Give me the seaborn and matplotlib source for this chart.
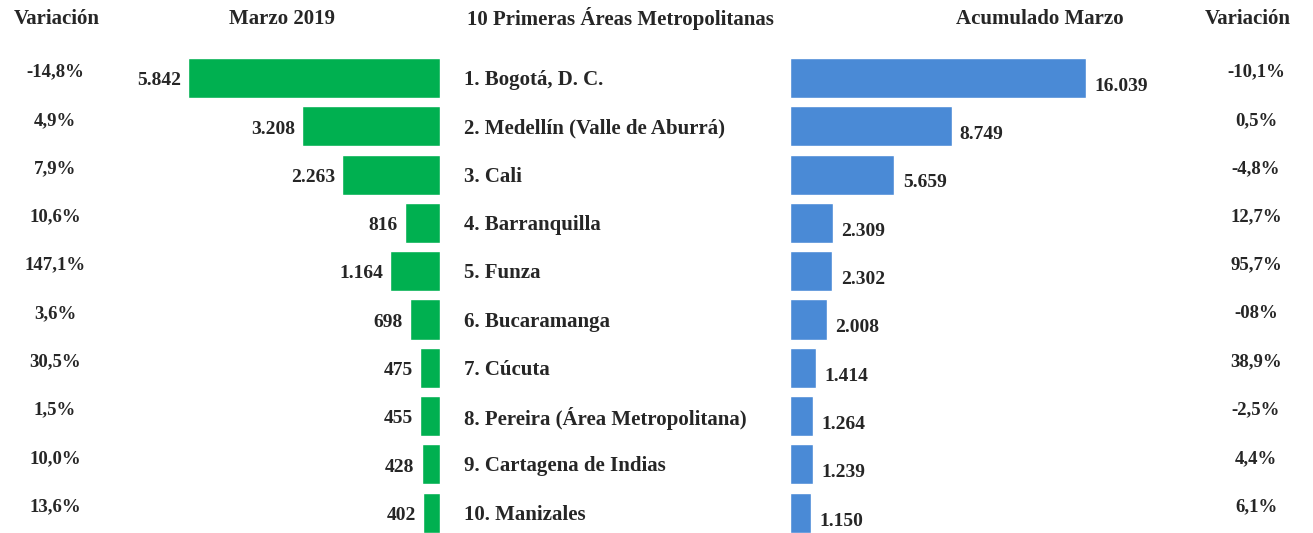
import matplotlib
matplotlib.use("Agg")
import matplotlib.pyplot as plt
import seaborn as sns
import pandas as pd

areas = [
    "1. Bogotá, D. C.",
    "2. Medellín (Valle de Aburrá)",
    "3. Cali",
    "4. Barranquilla",
    "5. Funza",
    "6. Bucaramanga",
    "7. Cúcuta",
    "8. Pereira (Área Metropolitana)",
    "9. Cartagena de Indias",
    "10. Manizales",
]
marzo_2019 = [5842, 3208, 2263, 816, 1164, 698, 475, 455, 428, 402]
acumulado_marzo = [16039, 8749, 5659, 2309, 2302, 2008, 1414, 1264, 1239, 1150]
var_marzo = ["-14,8%", "4,9%", "7,9%", "10,6%", "147,1%", "3,6%", "30,5%", "1,5%", "10,0%", "13,6%"]
var_acum = ["-10,1%", "0,5%", "-4,8%", "12,7%", "95,7%", "-08%", "38,9%", "-2,5%", "4,4%", "6,1%"]

df = pd.DataFrame({"area": areas, "marzo": marzo_2019, "acum": acumulado_marzo})

def miles(v):
    return f"{v:,}".replace(",", ".")

sns.set_style("white")
plt.rcParams["font.family"] = ["Liberation Serif", "DejaVu Serif"]
plt.rcParams["font.weight"] = "bold"

W, H = 1313, 533
fig = plt.figure(figsize=(W / 100, H / 100), dpi=100)

# fila 0 centrada en y=78 px, separación 48.3 px
paso = 48.3
top_px = 78 - paso / 2
ylim = ((H - 78) / paso, -0.5)
ax_h = 1 - top_px / H
fs = 15
fs_pct = 13.5
verde = "#00B050"
azul = "#4A8AD6"

# barras izquierdas (Marzo 2019)
axl_x0, axl_x1 = 100, 440
axl = fig.add_axes([axl_x0 / W, 0, (axl_x1 - axl_x0) / W, ax_h])
sns.barplot(data=df, x="marzo", y="area", orient="h", color=verde, width=0.83,
            saturation=1, ax=axl)
axl.set_xlim((axl_x1 - axl_x0) / 0.0431, 0)
axl.set_ylim(*ylim)
axl.axis("off")
for i, v in enumerate(marzo_2019):
    axl.annotate(miles(v), (v, i), xytext=(-5, -2), textcoords="offset points",
                 ha="right", va="center", fontsize=fs_pct + 0.5, fontweight="bold")

# barras derechas (Acumulado Marzo)
axr_x0, axr_x1 = 790, 1190
axr = fig.add_axes([axr_x0 / W, 0, (axr_x1 - axr_x0) / W, ax_h])
sns.barplot(data=df, x="acum", y="area", orient="h", color=azul, width=0.83,
            saturation=1, ax=axr)
axr.set_xlim(0, (axr_x1 - axr_x0) / 0.01846)
axr.set_ylim(*ylim)
axr.axis("off")
for i, v in enumerate(acumulado_marzo):
    axr.annotate(miles(v), (v, i), xytext=(6, -6), textcoords="offset points",
                 ha="left", va="center", fontsize=fs_pct + 0.5, fontweight="bold")

# columnas de texto
def fx(px):
    return px / W

def fy(px):
    return 1 - px / H

for i in range(len(areas)):
    yc = 78 + i * paso
    fig.text(fx(55), fy(yc - 6), var_marzo[i], ha="center", va="center", fontsize=fs_pct, fontweight="bold")
    fig.text(fx(464), fy(yc + 2), areas[i], ha="left", va="center", fontsize=fs, fontweight="bold")
    fig.text(fx(1256), fy(yc - 6), var_acum[i], ha="center", va="center", fontsize=fs_pct, fontweight="bold")

hy = fy(19)
fig.text(fx(57), hy, "Variación", ha="center", va="center", fontsize=fs, fontweight="bold")
fig.text(fx(282), hy, "Marzo 2019", ha="center", va="center", fontsize=fs, fontweight="bold")
fig.text(fx(467), hy, "10 Primeras Áreas Metropolitanas", ha="left", va="center", fontsize=fs, fontweight="bold")
fig.text(fx(1040), hy, "Acumulado Marzo", ha="center", va="center", fontsize=fs, fontweight="bold")
fig.text(fx(1248), hy, "Variación", ha="center", va="center", fontsize=fs, fontweight="bold")

fig.savefig("out.png", dpi=100)
